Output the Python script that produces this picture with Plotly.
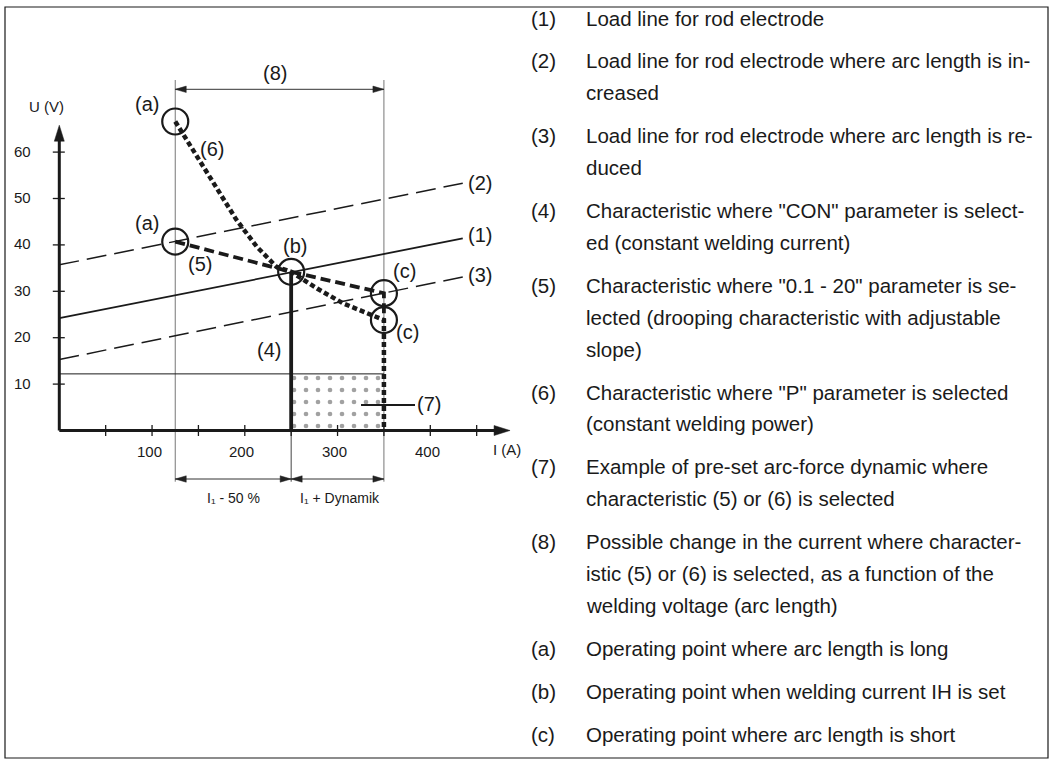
import plotly.graph_objects as go

# ---------------- data ----------------
I_TICKS = [50, 100, 150, 200, 250, 300, 350, 400, 450]
I_TICK_LABELS = [100, 200, 300, 400]
U_TICKS = [10, 20, 30, 40, 50, 60]

LOAD_I = [0, 435]
LOAD1_U = [24.2, 41.4]          # (1) load line
LOAD2_U = [35.7, 53.3]          # (2) arc length increased
LOAD3_U = [15.3, 33.1]          # (3) arc length reduced

CON_I = [250, 250]              # (4) constant current
CON_U = [34.2, 0]

DROOP_I = [125, 250, 350, 350]  # (5) drooping characteristic
DROOP_U = [40.7, 34.2, 29.6, 23.8]

POWER_I = [125, 155, 173, 191, 213, 234, 250, 278, 306, 330, 350, 350]   # (6) constant power
POWER_U = [66.6, 56.9, 51.1, 45.4, 39.6, 35.3, 34.2, 30.6, 27.4, 25.3, 23.8, 0]

OP_I = [125, 125, 250, 350, 350]          # operating points (a),(a),(b),(c),(c)
OP_U = [66.6, 40.7, 34.2, 29.6, 23.8]

I_LOW, I_SET, I_HIGH = 125, 250, 350      # dimension guide currents
DYN_U = 12.2                               # (7) arc-force dynamic level
AXIS_I_MAX, AXIS_U_MAX = 486, 65.8

ITEMS = [
    ("(1)", ["Load line for rod electrode"]),
    ("(2)", ["Load line for rod electrode where arc length is in-", "creased"]),
    ("(3)", ["Load line for rod electrode where arc length is re-", "duced"]),
    ("(4)", ['Characteristic where "CON" parameter is select-', "ed (constant welding current)"]),
    ("(5)", ['Characteristic where "0.1 - 20" parameter is se-',
             "lected (drooping characteristic with adjustable", "slope)"]),
    ("(6)", ['Characteristic where "P" parameter is selected', "(constant welding power)"]),
    ("(7)", ["Example of pre-set arc-force dynamic where", "characteristic (5) or (6) is selected"]),
    ("(8)", ["Possible change in the current where character-",
             "istic (5) or (6) is selected, as a function of the", "welding voltage (arc length)"]),
    ("(a)", ["Operating point where arc length is long"]),
    ("(b)", ["Operating point when welding current IH is set"]),
    ("(c)", ["Operating point where arc length is short"]),
]

# ---------------- layout calibration ----------------
W, H = 1056, 765
X0, SX = 59.3, 0.9275     # pixel of I=0, px per A
Y0, SY = 430.5, 4.64      # pixel of U=0, px per V
XR = [-X0 / SX, (W - X0) / SX]
YR = [(Y0 - H) / SY, Y0 / SY]
FONT = "Liberation Sans, Arial, sans-serif"
INK = "#1a1a1a"

def px(x):
    return x / W

def py(y):
    return 1 - y / H

def du(p):   # pixels -> volts
    return p / SY

def di(p):   # pixels -> amps
    return p / SX

fig = go.Figure()

def line(x, y, width=1.0, color=INK, dash="solid"):
    fig.add_trace(go.Scatter(x=x, y=y, mode="lines", cliponaxis=False,
                             line=dict(color=color, width=width, dash=dash),
                             hoverinfo="skip", showlegend=False))

def heads(specs, color=INK):
    xs, ys = [], []
    for (ti, tu, d, L, hw) in specs:
        if d == "right":
            pts = [(ti, tu), (ti - di(L), tu + du(hw)), (ti - di(L), tu - du(hw))]
        elif d == "left":
            pts = [(ti, tu), (ti + di(L), tu + du(hw)), (ti + di(L), tu - du(hw))]
        else:  # up
            pts = [(ti, tu), (ti - di(hw), tu - du(L)), (ti + di(hw), tu - du(L))]
        pts.append(pts[0])
        xs += [p[0] for p in pts] + [None]
        ys += [p[1] for p in pts] + [None]
    fig.add_trace(go.Scatter(x=xs, y=ys, mode="lines", fill="toself", fillcolor=color,
                             line=dict(color=color, width=0.5), cliponaxis=False,
                             hoverinfo="skip", showlegend=False))

# (7) dynamic region texture
fig.add_trace(go.Scatter(
    x=[I_SET, I_HIGH, I_HIGH, I_SET, I_SET], y=[0, 0, DYN_U, DYN_U, 0],
    mode="lines", fill="toself", line=dict(width=0),
    fillcolor="rgba(0,0,0,0)",
    fillpattern=dict(shape=".", size=12, solidity=0.12, fgcolor="#444", bgcolor="white"),
    hoverinfo="skip", showlegend=False))

# guide lines
line([I_LOW, I_LOW], [du(430.5 - 481.7), du(430.5 - 80)], 1.0, "#777")
line([I_HIGH, I_HIGH], [du(430.5 - 481.7), du(430.5 - 80)], 1.0, "#777")
line([I_SET, I_SET], [0, du(430.5 - 481.7)], 1.0, "#444")
line([0, I_HIGH], [DYN_U, DYN_U], 1.0, INK)

# dimension lines
U_TOP = du(430.5 - 89.3)
U_BOT = du(430.5 - 479)
line([I_LOW, I_HIGH], [U_TOP, U_TOP], 1.0, "#333")
line([I_LOW, I_HIGH], [U_BOT, U_BOT], 1.0, "#333")
heads([(I_LOW, U_TOP, "left", 11, 3.2), (I_HIGH, U_TOP, "right", 11, 3.2),
       (I_LOW, U_BOT, "left", 11, 3.2), (I_SET, U_BOT, "right", 11, 3.2),
       (I_SET, U_BOT, "left", 11, 3.2), (I_HIGH, U_BOT, "right", 11, 3.2)], "#222")

# (7) pointer
line([325.3, 383.5], [5.5, 5.5], 1.8, INK)

# load lines
line(LOAD_I, LOAD1_U, 1.8)
line(LOAD_I, LOAD2_U, 1.5, dash="20px,8px")
line(LOAD_I, LOAD3_U, 1.5, dash="20px,8px")

# characteristics
line(CON_I, CON_U, 3.8)
line(DROOP_I, DROOP_U, 3.8, dash="10px,5px")
line(POWER_I, POWER_U, 4.5, dash="5px,3px")

# axes
xt, yt = [], []
for v in I_TICKS:
    xt += [v, v, None]
    yt += [du(-5.5), du(5.5), None]
for v in U_TICKS:
    xt += [di(-6.5), di(5.5), None]
    yt += [v, v, None]
line(xt, yt, 1.3)
line([0, AXIS_I_MAX - di(10)], [0, 0], 3.0)
line([0, 0], [0, AXIS_U_MAX - du(10)], 3.0)
heads([(AXIS_I_MAX, 0, "right", 16, 5.0), (0, AXIS_U_MAX, "up", 16, 5.0)])

# operating point circles
fig.add_trace(go.Scatter(x=OP_I, y=OP_U, mode="markers", cliponaxis=False,
                         marker=dict(symbol="circle-open", size=26, color=INK,
                                     line=dict(width=2.2, color=INK)),
                         hoverinfo="skip", showlegend=False))

ann = []

def txt(x, y, s, size=20, xa="center", ya="middle", color=INK):
    ann.append(dict(x=px(x), y=py(y), xref="paper", yref="paper", text=s, showarrow=False,
                    xanchor=xa, yanchor=ya, font=dict(family=FONT, size=size, color=color)))

# tick labels
for v in I_TICK_LABELS:
    ann.append(dict(x=v, y=0, xref="x", yref="y", text=str(v), showarrow=False,
                    xanchor="center", yanchor="middle", xshift=-3, yshift=-21,
                    font=dict(family=FONT, size=15, color=INK)))
for v in U_TICKS:
    ann.append(dict(x=0, y=v, xref="x", yref="y", text=str(v), showarrow=False,
                    xanchor="right", yanchor="middle", xshift=-26, yshift=1,
                    font=dict(family=FONT, size=15, color=INK)))

txt(46.7, 107, "U (V)", 15)
txt(507, 449, "I (A)", 15)
txt(233, 498, "I\u2081 - 50 %", 14)
txt(340, 498, "I\u2081 + Dynamik", 14)

# chart labels
for (x, y, s) in [(275, 73, "(8)"), (147, 104, "(a)"), (147, 223, "(a)"), (212, 149, "(6)"),
                  (200, 264, "(5)"), (295, 246, "(b)"), (404, 271, "(c)"), (407, 332, "(c)"),
                  (269, 350, "(4)"), (480, 183, "(2)"), (480, 235, "(1)"), (480, 275, "(3)"),
                  (429, 404, "(7)")]:
    txt(x, y, s, 20)

# explanation list
y = 18.0
for i, (lab, lines) in enumerate(ITEMS):
    if i > 0:
        y += 43.0
    txt(528.6, y, lab, 20.5, xa="left")
    for j, s in enumerate(lines):
        if j > 0:
            y += 31.8
        txt(584, y, s, 20.5, xa="left")

fig.update_layout(
    width=W, height=H, margin=dict(l=0, r=0, t=0, b=0),
    paper_bgcolor="white", plot_bgcolor="white",
    xaxis=dict(range=XR, visible=False, fixedrange=True),
    yaxis=dict(range=YR, visible=False, fixedrange=True),
    annotations=ann,
    shapes=[dict(type="rect", xref="paper", yref="paper", x0=px(5), x1=px(1048),
                 y0=py(758), y1=py(7), line=dict(color=INK, width=1.2))],
    showlegend=False,
)

fig.write_html("out.html",
               config={"displayModeBar": False, "staticPlot": True},
               post_script="document.body.style.margin='0';"
                           "document.documentElement.style.overflow='hidden';")
